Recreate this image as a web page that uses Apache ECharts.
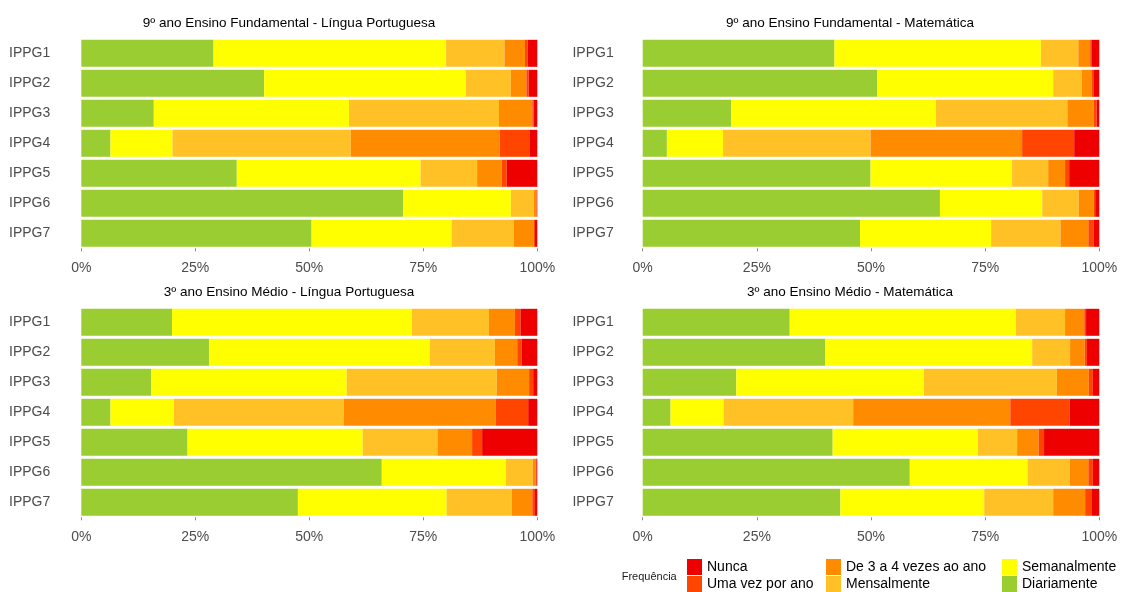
<!DOCTYPE html>
<html>
<head>
<meta charset="utf-8">
<script src="https://cdn.jsdelivr.net/npm/echarts@6/dist/echarts.min.js"></script>
<style>
  html, body { margin: 0; padding: 0; background: #fff; }
  #chart { width: 1121px; height: 592px; }
</style>
</head>
<body>
<div id="chart"></div>
<script>
// categorias (de cima para baixo)
const categorias = ['IPPG1', 'IPPG2', 'IPPG3', 'IPPG4', 'IPPG5', 'IPPG6', 'IPPG7'];
const frequencias = ['Diariamente', 'Semanalmente', 'Mensalmente', 'De 3 a 4 vezes ao ano', 'Uma vez por ano', 'Nunca'];
const xTicks = [0, 25, 50, 75, 100];

// % por frequencia (linhas na ordem de frequencias, colunas IPPG1..IPPG7)
const ef9Portugues = [
    [29.0, 40.1, 15.9, 6.4, 34.1, 70.6, 50.5],
    [51.0, 44.2, 42.8, 13.6, 40.3, 23.6, 30.7],
    [12.8, 9.9, 32.9, 39.1, 12.4, 5.0, 13.6],
    [4.5, 3.4, 7.3, 32.7, 5.4, 0.6, 4.4],
    [0.6, 0.5, 0.3, 6.6, 1.1, 0.1, 0.3],
    [2.1, 1.9, 0.8, 1.6, 6.7, 0.1, 0.5]
];
const ef9Matematica = [
    [42.0, 51.4, 19.4, 5.3, 49.9, 65.1, 47.6],
    [45.2, 38.5, 44.8, 12.3, 31.0, 22.4, 28.7],
    [8.2, 6.3, 28.8, 32.3, 7.9, 8.0, 15.2],
    [2.6, 2.2, 5.8, 33.2, 3.7, 3.3, 6.1],
    [0.4, 0.3, 0.6, 11.4, 0.9, 0.3, 1.2],
    [1.6, 1.3, 0.6, 5.5, 6.6, 0.9, 1.2]
];
const em3Portugues = [
    [19.9, 28.0, 15.3, 6.4, 23.3, 65.9, 47.5],
    [52.6, 48.4, 42.9, 13.9, 38.4, 27.2, 32.6],
    [16.9, 14.3, 32.9, 37.3, 16.4, 5.9, 14.3],
    [5.7, 4.9, 7.1, 33.3, 7.6, 0.6, 4.5],
    [1.2, 1.0, 0.9, 7.1, 2.2, 0.2, 0.6],
    [3.7, 3.4, 0.9, 2.0, 12.1, 0.2, 0.5]
];
const em3Matematica = [
    [32.2, 40.0, 20.5, 6.1, 41.6, 58.5, 43.3],
    [49.5, 45.3, 41.1, 11.6, 31.8, 25.8, 31.5],
    [10.8, 8.3, 29.1, 28.4, 8.6, 9.2, 15.1],
    [4.2, 3.2, 7.0, 34.4, 4.7, 4.1, 7.0],
    [0.4, 0.5, 0.9, 13.0, 1.2, 1.0, 1.5],
    [2.9, 2.7, 1.4, 6.5, 12.1, 1.4, 1.6]
];

const titulos = [
    '9º ano Ensino Fundamental - Língua Portuguesa',
    '9º ano Ensino Fundamental - Matemática',
    '3º ano Ensino Médio - Língua Portuguesa',
    '3º ano Ensino Médio - Matemática'
];
const paineis = [ef9Portugues, ef9Matematica, em3Portugues, em3Matematica];

const cores = {
    'Diariamente': '#9ACD32',
    'Semanalmente': '#FFFF00',
    'Mensalmente': '#FFC125',
    'De 3 a 4 vezes ao ano': '#FF8C00',
    'Uma vez por ano': '#FF4500',
    'Nunca': '#EE0000'
};

const grids = [
    { left: 81.3, top: 38.3, width: 456, height: 210 },
    { left: 642.7, top: 38.3, width: 456.6, height: 210 },
    { left: 81.3, top: 307.3, width: 456, height: 210 },
    { left: 642.7, top: 307.3, width: 456.6, height: 210 }
];
const tituloX = [289, 850, 289, 850];
const tituloY = [16, 16, 285, 285];
const labelMargin = [31, 29, 31, 29];

let xAxes = [], yAxes = [], series = [], titles = [];
paineis.forEach((painel, p) => {
    titles.push({
        text: titulos[p],
        left: tituloX[p],
        top: tituloY[p],
        textAlign: 'center',
        padding: 0,
        textStyle: { fontSize: 13.5, fontWeight: 'normal', color: '#000', fontFamily: 'Liberation Sans, Arial' }
    });
    xAxes.push({
        gridIndex: p,
        type: 'value',
        min: 0,
        max: 100,
        interval: 25,
        axisLine: { show: false },
        splitLine: { show: false },
        axisTick: { show: true, length: 3, lineStyle: { color: '#8c8c8c' } },
        axisLabel: {
            margin: 13,
            fontSize: 14,
            color: '#4D4D4D',
            fontFamily: 'Liberation Sans, Arial',
            formatter: v => xTicks.includes(v) ? v + '%' : ''
        }
    });
    yAxes.push({
        gridIndex: p,
        type: 'category',
        inverse: true,
        data: categorias,
        axisLine: { show: false },
        axisTick: { show: false },
        axisLabel: { margin: labelMargin[p], fontSize: 14, color: '#4D4D4D', fontFamily: 'Liberation Sans, Arial' }
    });
    frequencias.forEach((nome, i) => {
        series.push({
            name: nome,
            type: 'bar',
            stack: 'painel' + p,
            xAxisIndex: p,
            yAxisIndex: p,
            barCategoryGap: '10%',
            itemStyle: { color: cores[nome] },
            data: painel[i]
        });
    });
});

const legendaBase = {
    orient: 'vertical',
    top: 559,
    padding: 0,
    itemWidth: 15,
    itemHeight: 16,
    itemGap: 1,
    icon: 'rect',
    textStyle: { fontSize: 14, color: '#000', fontFamily: 'Liberation Sans, Arial', padding: [3, 0, 0, 0] }
};

const chart = echarts.init(document.getElementById('chart'));
chart.setOption({
    backgroundColor: '#fff',
    animation: false,
    title: titles,
    grid: grids,
    xAxis: xAxes,
    yAxis: yAxes,
    legend: [
        Object.assign({}, legendaBase, { left: 687, data: ['Nunca', 'Uma vez por ano'] }),
        Object.assign({}, legendaBase, { left: 826, data: ['De 3 a 4 vezes ao ano', 'Mensalmente'] }),
        Object.assign({}, legendaBase, { left: 1002, data: ['Semanalmente', 'Diariamente'] })
    ],
    graphic: [{
        type: 'text',
        left: 621.7,
        top: 571,
        style: { text: 'Frequência', fontSize: 11, fill: '#1A1A1A', fontFamily: 'Liberation Sans, Arial' }
    }],
    series: series
});
</script>
</body>
</html>
